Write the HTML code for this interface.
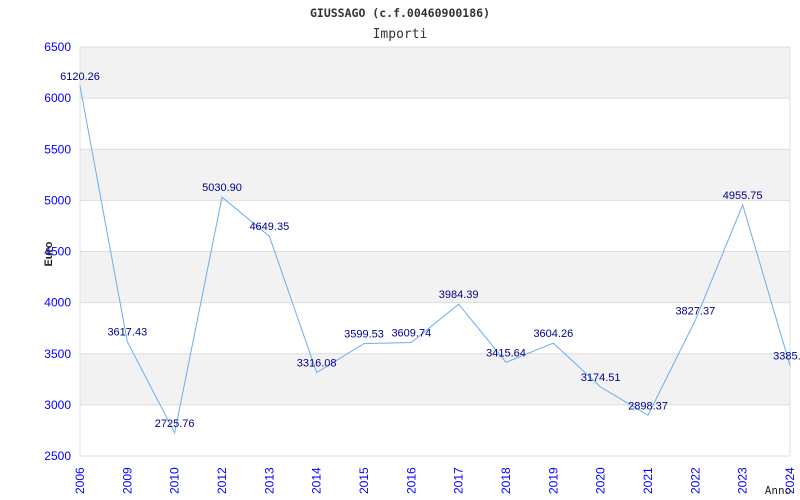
<!DOCTYPE html>
<html><head><meta charset="utf-8"><style>
body{margin:0;background:#fff;width:800px;height:500px;overflow:hidden}
svg{display:block;font-family:"Liberation Sans",sans-serif}
</style></head><body>
<svg id="chart" width="800" height="500">
<text x="400" y="17" text-anchor="middle" font-family="DejaVu Sans Mono,Liberation Mono,monospace" font-weight="bold" font-size="11.5" fill="#333">GIUSSAGO (c.f.00460900186)</text>
<text x="400" y="38" text-anchor="middle" font-family="DejaVu Sans Mono,Liberation Mono,monospace" font-size="13" fill="#333">Importi</text>
<g id="bands"></g><g id="grid"></g><g id="yt"></g><g id="xt"></g><g id="series"></g>
<text x="52" y="254" transform="rotate(-90 52 254)" text-anchor="middle" font-size="11" font-weight="bold" fill="#222">Euro</text>
<text x="778" y="494" text-anchor="middle" font-family="DejaVu Sans Mono,monospace" font-size="11" fill="#222">Anno</text>
</svg>
<script>
const categories=["2006","2009","2010","2012","2013","2014","2015","2016","2017","2018","2019","2020","2021","2022","2023","2024"];
const values=[6120.26,3617.43,2725.76,5030.90,4649.35,3316.08,3599.53,3609.74,3984.39,3415.64,3604.26,3174.51,2898.37,3827.37,4955.75,3385.3];
const labels=["6120.26","3617.43","2725.76","5030.90","4649.35","3316.08","3599.53","3609.74","3984.39","3415.64","3604.26","3174.51","2898.37","3827.37","4955.75","3385.3"];
const yTicks=[2500,3000,3500,4000,4500,5000,5500,6000,6500];
const L=80,R=790,T=47,B=456,ymin=2500,ymax=6500;
const NS="http://www.w3.org/2000/svg";
const y=v=>B-(v-ymin)/(ymax-ymin)*(B-T);
const x=i=>L+i*(R-L)/(categories.length-1);
function mk(t,a,p){const e=document.createElementNS(NS,t);for(const k in a)e.setAttribute(k,a[k]);p.appendChild(e);return e;}
const bands=document.getElementById('bands'),grid=document.getElementById('grid'),yt=document.getElementById('yt'),xt=document.getElementById('xt'),ser=document.getElementById('series');
for(let k=0;k<yTicks.length-1;k++){
 if(k%2==1){const r=mk('rect',{x:L,y:y(yTicks[k+1]),width:R-L,height:y(yTicks[k])-y(yTicks[k+1]),fill:'#f2f2f2'},bands);
 
 }
}
yTicks.forEach(v=>{
 const g=mk('line',{x1:L,x2:R,y1:y(v),y2:y(v),stroke:'#ddd'},grid);
 
 
 const t=mk('text',{x:71,y:y(v)+4,'text-anchor':'end','font-size':12,fill:'#00f'},yt);t.textContent=v;
 
 
});
const ax=mk('line',{x1:L,x2:L,y1:T,y2:B,stroke:'#ddd'},grid);


const rx=mk('line',{x1:R,x2:R,y1:T,y2:B,stroke:'#ddd'},grid);


categories.forEach((c,i)=>{
 const t=mk('text',{x:0,y:0,transform:`translate(${x(i)+4},494) rotate(-90)`,'font-size':12,fill:'#00f'},xt);t.textContent=c;
 
 
});
const pl=mk('polyline',{points:values.map((v,i)=>x(i)+','+y(v)).join(' '),fill:'none',stroke:'#6aaef0','stroke-width':1},ser);


values.forEach((v,i)=>{
 const t=mk('text',{x:x(i),y:y(v)-6,'text-anchor':'middle','font-size':11,fill:'#00008b'},ser);t.textContent=labels[i];
 
 
});
</script>
</body></html>
